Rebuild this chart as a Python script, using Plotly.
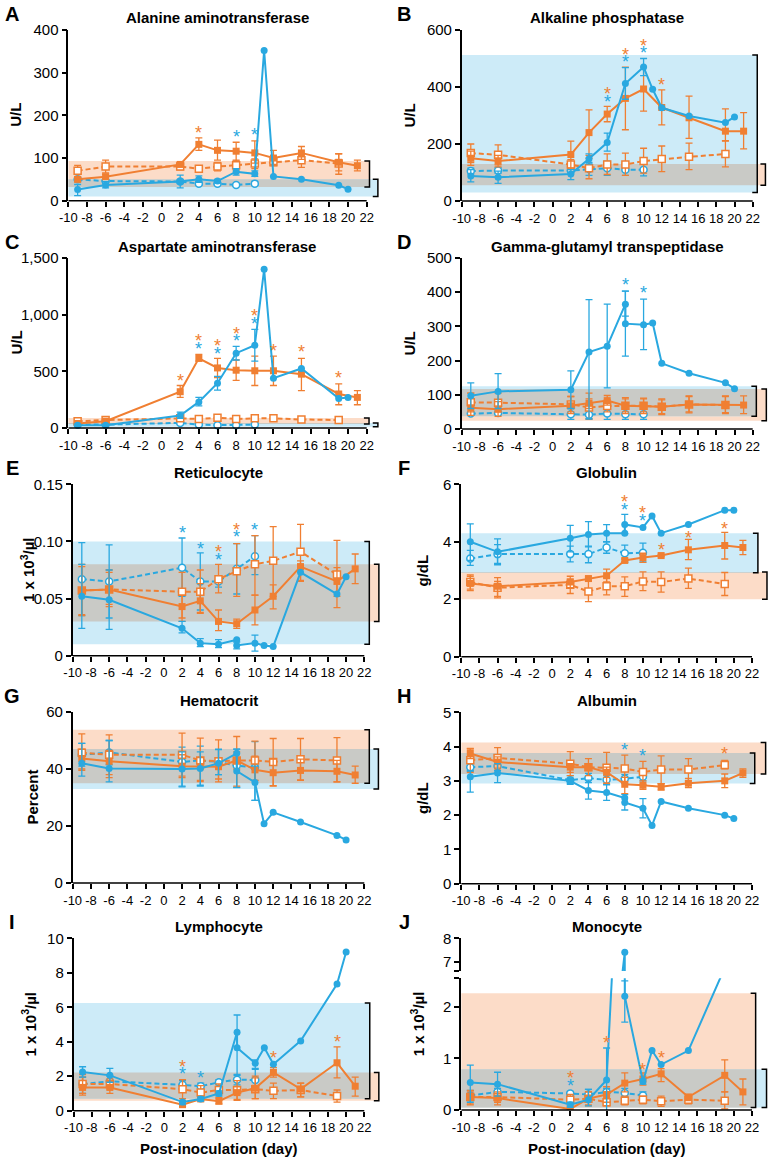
"""
Ten-panel clinical chemistry / haematology time course, rebuilt with Plotly.
"""
import plotly.graph_objects as go

N = None  # no error bar at this point

# shared day axes
OS_DAYS = [-9, -6, 2, 4, 6, 8, 10, 12, 15, 19, 21]   # orange, solid, filled squares
OD_DAYS = [-9, -6, 2, 4, 6, 8, 10, 12, 15, 19]       # orange, dashed, open squares
BD_DAYS = [-9, -6, 2, 4, 6, 8, 10]                   # blue, dashed, open circles
X_TICKS = list(range(-10, 23, 2))
X_TICK_LABELS = [str(d) for d in X_TICKS]

# each point: (mean, error-bar low, error-bar high)

# A  Alanine aminotransferase
alt_os = [(50, 45, 56), (56, 50, 62), (85, 80, 90), (132, 118, 147), (118, 95, 142), (116, 93, 137),
          (112, 88, 140), (100, 85, 118), (112, 97, 127), (90, 70, 110), (82, 70, 95)]
alt_od = [(70, 55, 83), (80, 65, 95), (80, 72, 88), (75, 68, 82), (80, 70, 90), (83, 72, 95),
          (87, 75, 98), (90, 82, 100), (95, 78, 110), (87, 62, 110)]
alt_bs_days = [-9, -6, 2, 4, 6, 8, 10, 11, 12, 15, 19, 20]
alt_bs = [(26, 12, 38), (37, 30, 45), (45, 30, 60), (50, 43, 58), (46, 42, 50), (68, 60, 75),
          (63, 57, 70), (352, N, N), (57, N, N), (50, N, N), (36, N, N), (27, N, N)]
alt_bd = [(50, 45, 55), (46, 42, 50), (45, 40, 50), (40, 36, 45), (40, 37, 43), (37, 34, 40), (40, 36, 45)]
alt_orange_ref = (32, 93)
alt_blue_ref = (10, 50)
alt_stars = [(4, 171, "o"), (8, 160, "b"), (10, 165, "b")]
alt_yticks = [0, 100, 200, 300, 400]
alt_ylabels = ["0", "100", "200", "300", "400"]

# B  Alkaline phosphatase
alp_os = [(150, 125, 175), (140, 120, 160), (163, 115, 210), (240, 160, 320), (305, 278, 332),
          (360, 250, 470), (393, 315, 470), (328, 267, 390), (292, 220, 368), (245, 212, 323),
          (245, 183, 310)]
alp_od = [(168, 135, 200), (162, 127, 197), (128, 110, 145), (115, 78, 150), (128, 93, 165),
          (128, 90, 168), (140, 98, 185), (147, 103, 193), (155, 110, 203), (165, 120, 210)]
alp_bs_days = [-9, -6, 2, 4, 6, 8, 10, 11, 12, 15, 19, 20]
alp_bs = [(88, 67, 110), (83, 62, 105), (95, 75, 110), (148, 130, 165), (205, 175, 238),
          (412, 357, 468), (470, 440, 500), (392, N, N), (327, N, N), (298, N, N), (275, N, N),
          (295, N, N)]
alp_bd = [(105, 95, 115), (107, 97, 117), (107, 95, 118), (112, 90, 135), (115, 90, 140),
          (110, 90, 130), (110, 88, 132)]
alp_orange_ref = (55, 130)
alp_blue_ref = (30, 512)
alp_stars = [(6, 392, "o"), (6, 366, "b"), (8, 530, "o"), (8, 504, "b"), (10, 562, "o"),
             (10, 538, "b"), (12, 425, "o")]
alp_yticks = [0, 200, 400, 600]
alp_ylabels = ["0", "200", "400", "600"]

# C  Aspartate aminotransferase
ast_os = [(40, 30, 50), (60, 50, 70), (320, 270, 375), (615, 590, 650), (530, 445, 615),
          (510, 420, 600), (505, 375, 635), (505, 375, 635), (475, 330, 615), (300, 205, 390),
          (270, 205, 330)]
ast_od = [(60, 50, 70), (70, 60, 80), (85, 75, 95), (80, 70, 90), (90, 80, 100), (80, 70, 90),
          (85, 70, 100), (85, 75, 95), (75, 65, 85), (70, 60, 80)]
ast_bs_days = [-9, -6, 2, 4, 6, 8, 10, 11, 12, 15, 19, 20]
ast_bs = [(25, 15, 35), (25, 15, 35), (110, 85, 140), (230, 195, 270), (395, 335, 455),
          (660, 600, 720), (730, 590, 870), (1400, N, N), (440, N, N), (525, N, N), (260, N, N),
          (270, N, N)]
ast_bd = [(30, 20, 40), (30, 20, 40), (45, 35, 55), (30, 22, 38), (25, 18, 32), (25, 18, 32), (30, 22, 38)]
ast_orange_ref = (35, 88)
ast_blue_ref = (12, 45)
ast_stars = [(2, 460, "o"), (4, 810, "o"), (4, 745, "b"), (6, 765, "o"), (6, 700, "b"),
             (8, 875, "o"), (8, 810, "b"), (10, 1030, "o"), (10, 965, "b"), (12, 725, "o"),
             (15, 712, "o"), (19, 485, "o")]
ast_yticks = [0, 500, 1000, 1500]
ast_ylabels = ["0", "500", "1,000", "1,500"]

# D  Gamma-glutamyl transpeptidase
ggt_os = [(62, 40, 105), (58, 37, 80), (68, 45, 95), (75, 60, 88), (83, 70, 98), (68, 45, 92),
          (67, 45, 90), (65, 42, 88), (72, 47, 97), (70, 45, 97), (70, 45, 97)]
ggt_od = [(78, 50, 105), (77, 50, 105), (72, 50, 95), (63, 30, 105), (67, 50, 85), (68, 50, 88),
          (68, 50, 88), (65, 45, 85), (72, 50, 95), (70, 48, 95)]
ggt_bs_days = [-9, -6, 2, 4, 6, 8, 8, 10, 11, 12, 15, 19, 20]
ggt_bs = [(97, 60, 135), (110, 60, 162), (115, 60, 170), (225, 30, 378), (242, 120, 365),
          (365, 330, 403), (308, 213, 403), (305, 232, 380), (310, N, N), (192, N, N), (163, N, N),
          (135, N, N), (118, N, N)]
ggt_bd = [(45, 40, 50), (47, 42, 52), (43, 28, 60), (42, 28, 62), (45, 28, 62), (43, 28, 60), (43, 28, 60)]
ggt_orange_ref = (24, 117)
ggt_blue_ref = (37, 125)
ggt_stars = [(8, 437, "b"), (10, 412, "b")]
ggt_yticks = [0, 100, 200, 300, 400, 500]
ggt_ylabels = ["0", "100", "200", "300", "400", "500"]

# E  Reticulocyte
ret_os = [(0.057, 0.035, 0.080), (0.058, 0.045, 0.075), (0.043, 0.030, 0.053), (0.048, 0.037, 0.063),
          (0.030, 0.022, 0.040), (0.028, 0.024, 0.032), (0.040, 0.027, 0.053), (0.052, 0.041, 0.062),
          (0.078, 0.065, 0.083), (0.065, 0.052, 0.077), (0.076, 0.063, 0.089)]
ret_od = [(0.057, 0.036, 0.078), (0.058, 0.043, 0.073), (0.056, 0.033, 0.073), (0.056, 0.038, 0.075),
          (0.067, 0.055, 0.080), (0.074, 0.052, 0.098), (0.080, 0.053, 0.105), (0.083, 0.052, 0.113),
          (0.091, 0.066, 0.115), (0.071, 0.042, 0.101)]
ret_bs_days = [-9, -6, 2, 4, 6, 8, 8, 10, 11, 12, 15, 19, 20]
ret_bs = [(0.052, 0.024, 0.080), (0.049, 0.023, 0.075), (0.024, 0.020, 0.030), (0.011, 0.008, 0.015),
          (0.010, 0.007, 0.014), (0.014, N, N), (0.009, 0.006, 0.012), (0.011, 0.004, 0.018),
          (0.009, N, N), (0.008, N, N), (0.073, N, N), (0.054, N, N), (0.069, N, N)]
ret_bd = [(0.067, 0.035, 0.099), (0.065, 0.033, 0.097), (0.077, 0.052, 0.103), (0.065, 0.040, 0.090),
          (0.065, 0.060, 0.070), (0.076, 0.054, 0.098), (0.087, 0.071, 0.105)]
ret_orange_ref = (0.03, 0.08)
ret_blue_ref = (0.01, 0.10)
ret_stars = [(2, 0.112, "b"), (4, 0.098, "b"), (6, 0.095, "o"), (6, 0.088, "b"), (8, 0.114, "o"),
             (8, 0.108, "b"), (10, 0.114, "b")]
ret_yticks = [0, 0.05, 0.10, 0.15]
ret_ylabels = ["0", "0.05", "0.10", "0.15"]

# F  Globulin
glo_os = [(2.55, 2.3, 2.85), (2.45, 2.1, 2.75), (2.6, 2.4, 2.8), (2.72, 2.65, 2.78), (2.82, 2.6, 3.05),
          (3.35, 3.3, 3.4), (3.45, 3.28, 3.6), (3.52, 3.48, 3.56), (3.72, 3.38, 4.08), (3.87, 3.4, 4.33),
          (3.8, 3.55, 4.05)]
glo_od = [(2.6, 2.35, 2.8), (2.4, 2.05, 2.62), (2.5, 2.2, 2.7), (2.27, 1.92, 2.62), (2.45, 2.15, 2.75),
          (2.45, 2.1, 2.78), (2.62, 2.3, 2.95), (2.6, 2.25, 2.95), (2.72, 2.38, 3.08), (2.53, 2.13, 2.93)]
glo_bs_days = [-9, -6, 2, 4, 6, 8, 8, 10, 11, 12, 15, 19, 20]
glo_bs = [(4.0, 3.35, 4.62), (3.65, 3.2, 4.1), (4.12, 3.65, 4.57), (4.25, 3.82, 4.7), (4.3, 4.0, 4.6),
          (4.3, N, N), (4.6, 4.28, 4.95), (4.5, N, N), (4.9, N, N), (4.3, N, N), (4.6, N, N),
          (5.1, N, N), (5.1, N, N)]
glo_bd = [(3.42, 3.18, 3.7), (3.57, 3.25, 3.9), (3.57, 3.3, 3.85), (3.57, 3.27, 3.85), (3.8, 3.6, 4.0),
          (3.6, 3.28, 3.88), (3.62, 3.3, 3.95)]
glo_orange_ref = (2.0, 2.95)
glo_blue_ref = (2.92, 4.3)
glo_stars = [(8, 5.55, "o"), (8, 5.28, "b"), (10, 5.16, "o"), (10, 4.9, "b"), (12, 3.89, "o"),
             (15, 4.29, "o"), (19, 4.62, "o")]
glo_yticks = [0, 2, 4, 6]
glo_ylabels = ["0", "2", "4", "6"]

# G  Hematocrit
hct_os = [(43.7, 40, 47), (42.7, 37, 46.5), (41, 37, 45), (40.8, 36, 44), (40.8, 36.5, 44), (43, 40, 46),
          (39.7, 36, 44.5), (38.7, 34, 43.5), (39.5, 36, 43.5), (39.2, 35.5, 43), (37.9, 35, 41)]
hct_od = [(45.7, 39.5, 52.3), (45, 38, 52), (45, 37.5, 52.6), (43, 35.6, 50.8), (42.7, 35.5, 50.2),
          (43, 34, 51.4), (43, 36, 49.8), (42.5, 34.2, 50.7), (43.4, 36.2, 50.7), (43, 35.5, 51)]
hct_bs_days = [-9, -6, 2, 4, 6, 8, 8, 10, 11, 12, 15, 19, 20]
hct_bs = [(42, 37.5, 49), (40.2, 35.5, 50), (40, 34, 46), (40.2, 34, 46), (42, 38, 47), (45.5, N, N),
          (39.3, 33.5, 47), (35.3, 29, 41), (20.8, N, N), (24.8, N, N), (21.4, N, N), (16.7, N, N),
          (15.1, N, N)]
hct_bd = [(45, 41, 49), (45.8, 41.5, 50), (42.5, 33.7, 47.7), (43, 34.3, 48), (42.5, 38, 46.8),
          (41.2, 33.6, 47), (40.5, 29, 49.6)]
hct_orange_ref = (35, 53.8)
hct_blue_ref = (33, 47)
hct_stars = []
hct_yticks = [0, 20, 40, 60]
hct_ylabels = ["0", "20", "40", "60"]

# H  Albumin
alb_os = [(3.8, 3.65, 3.93), (3.55, 3.4, 3.7), (3.4, 3.25, 3.5), (3.4, 3.3, 3.5), (3.25, 3.1, 3.4),
          (2.9, 2.63, 3.1), (2.87, 2.75, 3.0), (2.83, 2.73, 2.92), (2.93, 2.8, 3.07), (3.0, 2.8, 3.2),
          (3.23, 3.1, 3.35)]
alb_od = [(3.6, 3.25, 3.95), (3.67, 3.35, 3.97), (3.5, 3.15, 3.85), (3.4, 3.15, 3.65), (3.38, 2.93, 3.83),
          (3.36, 2.98, 3.75), (3.26, 2.9, 3.57), (3.33, 2.92, 3.73), (3.33, 3.0, 3.65), (3.46, 3.35, 3.6)]
alb_bs_days = [-9, -6, 2, 4, 6, 8, 8, 10, 11, 12, 15, 19, 20]
alb_bs = [(3.12, 2.67, 3.3), (3.23, 2.95, 3.5), (3.0, 2.93, 3.08), (2.72, 2.47, 3.02), (2.66, 2.43, 2.88),
          (2.5, N, N), (2.37, 2.15, 2.6), (2.2, 1.92, 2.48), (1.7, N, N), (2.4, N, N), (2.2, N, N),
          (2.0, N, N), (1.9, N, N)]
alb_bd = [(3.4, 3.28, 3.5), (3.43, 3.3, 3.55), (3.02, 2.9, 3.15), (3.08, 2.95, 3.22), (3.03, 2.9, 3.17),
          (3.06, 2.92, 3.18), (3.12, 3.0, 3.25)]
alb_orange_ref = (3.2, 4.12)
alb_blue_ref = (2.92, 3.81)
alb_stars = [(8, 4.06, "b"), (10, 3.86, "b"), (19, 3.93, "o")]
alb_yticks = [0, 1, 2, 3, 4, 5]
alb_ylabels = ["0", "1", "2", "3", "4", "5"]

# I  Lymphocyte
lym_os = [(1.35, 0.9, 1.95), (1.35, 1.0, 1.7), (0.35, 0.25, 0.45), (0.68, 0.6, 0.75), (0.55, 0.4, 0.75),
          (1.05, 0.6, 1.4), (1.3, 0.7, 2.0), (2.22, 1.95, 2.5), (1.25, 0.8, 1.6), (2.78, 1.9, 3.7),
          (1.42, 0.85, 1.95)]
lym_od = [(1.55, 1.0, 2.1), (1.55, 1.25, 1.85), (1.25, 0.7, 1.8), (1.05, 0.65, 1.45), (1.2, 0.9, 1.55),
          (1.2, 0.65, 1.75), (1.25, 0.7, 1.9), (1.15, 0.7, 1.6), (1.2, 0.8, 1.6), (0.85, 0.5, 1.2)]
lym_bs_days = [-9, -6, 2, 4, 6, 8, 8, 10, 11, 12, 15, 19, 20]
lym_bs = [(2.25, 1.95, 2.55), (2.05, 1.65, 2.45), (0.5, 0.35, 0.6), (0.68, 0.55, 0.8), (1.0, 0.85, 1.15),
          (4.55, N, N), (3.65, 2.1, 5.55), (2.75, 2.45, 2.95), (3.65, N, N), (2.7, N, N), (4.05, N, N),
          (7.35, N, N), (9.2, N, N)]
lym_bd = [(1.55, 1.0, 1.95), (1.7, 1.4, 2.0), (1.5, 1.25, 1.75), (1.42, 1.25, 1.6), (1.65, 1.5, 1.8),
          (1.8, 1.5, 2.05), (1.78, 1.3, 2.4)]
lym_orange_ref = (0.58, 2.22)
lym_blue_ref = (0.7, 6.25)
lym_stars = [(2, 2.84, "o"), (2, 2.4, "b"), (4, 2.17, "b"), (12, 3.33, "o"), (19, 4.3, "o")]
lym_yticks = [0, 2, 4, 6, 8, 10]
lym_ylabels = ["0", "2", "4", "6", "8", "10"]

# J  Monocyte (broken y axis)
mon_os = [(0.25, 0.12, 0.35), (0.23, 0.1, 0.32), (0.02, 0.0, 0.05), (0.22, 0.08, 0.35), (0.3, 0.15, 0.45),
          (0.52, 0.35, 0.72), (0.6, 0.48, 0.72), (0.7, 0.55, 0.8), (0.25, 0.18, 0.3), (0.67, 0.35, 0.97),
          (0.35, 0.1, 0.6)]
mon_od = [(0.25, 0.1, 0.38), (0.25, 0.15, 0.35), (0.2, 0.08, 0.3), (0.22, 0.1, 0.35), (0.15, 0.08, 0.22),
          (0.18, 0.1, 0.27), (0.2, 0.12, 0.27), (0.17, 0.07, 0.27), (0.2, 0.12, 0.28), (0.18, 0.02, 0.35)]
mon_bs_days = [-9, -6, 2, 4, 6, 8, 8, 10, 11, 12, 15, 19, 20]
mon_bs = [(0.53, 0.15, 0.87), (0.5, 0.27, 0.73), (0.1, 0.05, 0.15), (0.2, 0.08, 0.4), (0.58, -0.05, 1.2),
          (7.4, N, N), (2.2, 1.7, 2.5), (0.55, 0.5, 0.6), (1.15, N, N), (0.88, N, N), (1.15, N, N),
          (2.75, N, N), (4.5, N, N)]
mon_bd = [(0.28, 0.18, 0.38), (0.35, 0.28, 0.42), (0.32, 0.28, 0.36), (0.3, 0.2, 0.4), (0.35, 0.28, 0.42),
          (0.33, 0.26, 0.42), (0.28, 0.21, 0.35)]
mon_orange_ref = (0.05, 2.26)
mon_blue_ref = (0.05, 0.79)
mon_stars = [(2, 0.71, "o"), (2, 0.57, "b"), (6, 1.4, "o"), (10, 0.87, "o"), (12, 1.11, "o")]
mon_yticks = [0, 1, 2, 2.55]
mon_ylabels = ["0", "1", "2", ""]
mon_upper_yticks = [6.6, 7, 8]
mon_upper_ylabels = ["", "7", "8"]

# ---- styling ----
W, H = 773, 1162
BLUE = "#29a8e0"
ORANGE = "#f07f32"
BLUE_BAND = "#cdebf8"
ORANGE_BAND = "#fcdcc8"
GREY_BAND = "#c9cac6"
FONT = "Liberation Sans"
X_MAX = 23.9
UNIT = "1 x 10<sup>3</sup>/µl"

PANELS = [
    dict(letter="A", title="Alanine aminotransferase", ytitle="U/L", os=alt_os, od=alt_od,
         bs_days=alt_bs_days, bs=alt_bs, bd=alt_bd, oref=alt_orange_ref, bref=alt_blue_ref,
         stars=alt_stars, yticks=alt_yticks, ylabels=alt_ylabels, yrange=[0, 400],
         box=(68.3, 366.7, 30, 200.7), brackets=(22.3, 23.2), ytx=15.5),
    dict(letter="B", title="Alkaline phosphatase", ytitle="U/L", os=alp_os, od=alp_od,
         bs_days=alp_bs_days, bs=alp_bs, bd=alp_bd, oref=alp_orange_ref, bref=alp_blue_ref,
         stars=alp_stars, yticks=alp_yticks, ylabels=alp_ylabels, yrange=[0, 600],
         box=(461.7, 752.7, 30, 201), brackets=(23.4, 22.5), ytx=409),
    dict(letter="C", title="Aspartate aminotransferase", ytitle="U/L", os=ast_os, od=ast_od,
         bs_days=ast_bs_days, bs=ast_bs, bd=ast_bd, oref=ast_orange_ref, bref=ast_blue_ref,
         stars=ast_stars, yticks=ast_yticks, ylabels=ast_ylabels, yrange=[0, 1500],
         box=(68.3, 366.7, 258, 428), brackets=(22.25, 23.2), ytx=15.5),
    dict(letter="D", title="Gamma-glutamyl transpeptidase", ytitle="U/L", os=ggt_os, od=ggt_od,
         bs_days=ggt_bs_days, bs=ggt_bs, bd=ggt_bd, oref=ggt_orange_ref, bref=ggt_blue_ref,
         stars=ggt_stars, yticks=ggt_yticks, ylabels=ggt_ylabels, yrange=[0, 500],
         box=(461.7, 752.7, 258, 429), brackets=(23.5, 22.4), ytx=409),
    dict(letter="E", title="Reticulocyte", ytitle=UNIT, os=ret_os, od=ret_od,
         bs_days=ret_bs_days, bs=ret_bs, bd=ret_bd, oref=ret_orange_ref, bref=ret_blue_ref,
         stars=ret_stars, yticks=ret_yticks, ylabels=ret_ylabels, yrange=[0, 0.15],
         box=(72.7, 364.3, 484.3, 655.7), brackets=(23.6, 22.55), ytx=27),
    dict(letter="F", title="Globulin", ytitle="g/dL", os=glo_os, od=glo_od,
         bs_days=glo_bs_days, bs=glo_bs, bd=glo_bd, oref=glo_orange_ref, bref=glo_blue_ref,
         stars=glo_stars, yticks=glo_yticks, ylabels=glo_ylabels, yrange=[0, 6],
         box=(461.2, 752.0, 484.3, 656.7), brackets=(23.65, 22.65), ytx=422),
    dict(letter="G", title="Hematocrit", ytitle="Percent", os=hct_os, od=hct_od,
         bs_days=hct_bs_days, bs=hct_bs, bd=hct_bd, oref=hct_orange_ref, bref=hct_blue_ref,
         stars=hct_stars, yticks=hct_yticks, ylabels=hct_ylabels, yrange=[0, 60],
         box=(72.7, 364.3, 712, 883), brackets=(22.55, 23.55), ytx=32),
    dict(letter="H", title="Albumin", ytitle="g/dL", os=alb_os, od=alb_od,
         bs_days=alb_bs_days, bs=alb_bs, bd=alb_bd, oref=alb_orange_ref, bref=alb_blue_ref,
         stars=alb_stars, yticks=alb_yticks, ylabels=alb_ylabels, yrange=[0, 5],
         box=(461.2, 752.0, 712.3, 883.7), brackets=(23.5, 22.3), ytx=422),
    dict(letter="I", title="Lymphocyte", ytitle=UNIT, os=lym_os, od=lym_od,
         bs_days=lym_bs_days, bs=lym_bs, bd=lym_bd, oref=lym_orange_ref, bref=lym_blue_ref,
         stars=lym_stars, yticks=lym_yticks, ylabels=lym_ylabels, yrange=[0, 10],
         box=(73.5, 364.3, 938.3, 1110.7), brackets=(23.6, 22.6), ytx=29),
    dict(letter="J", title="Monocyte", ytitle=UNIT, os=mon_os, od=mon_od,
         bs_days=mon_bs_days, bs=mon_bs, bd=mon_bd, oref=mon_orange_ref, bref=mon_blue_ref,
         stars=mon_stars, yticks=mon_yticks, ylabels=mon_ylabels, yrange=[0, 2.55],
         box=(461.2, 752.0, 978.2, 1110), brackets=(22.4, 23.6), ytx=417),
]


def add_series(fig, xa, ya, days, pts, color, symbol, open_marker, dashed, clip):
    """Line + markers, and a separate invisible-marker trace carrying the error bars."""
    bars = [(d, p) for d, p in zip(days, pts) if p[1] is not None]
    if bars:
        fig.add_trace(go.Scatter(
            x=[d for d, _ in bars],
            y=[p[0] for _, p in bars],
            mode="markers",
            marker=dict(size=2, color="rgba(0,0,0,0)"),
            error_y=dict(type="data", symmetric=False,
                         array=[p[2] - p[0] for _, p in bars],
                         arrayminus=[p[0] - p[1] for _, p in bars],
                         color=color, thickness=1.3, width=3.5),
            xaxis=xa, yaxis=ya, hoverinfo="skip", showlegend=False, cliponaxis=clip,
        ))
    fig.add_trace(go.Scatter(
        x=days,
        y=[p[0] for p in pts],
        mode="lines+markers",
        line=dict(color=color, width=2, dash="5px,3px" if dashed else "solid"),
        marker=dict(symbol=symbol, size=7,
                    color="white" if open_marker else color,
                    line=dict(color=color, width=1.5 if open_marker else 0)),
        xaxis=xa, yaxis=ya, hoverinfo="skip", showlegend=False, cliponaxis=clip,
    ))


fig = go.Figure()
axes = {}
shapes = []
annotations = []
font = dict(family=FONT, color="black")

for n, p in enumerate(PANELS, start=1):
    xl, x22, ytop, ybot = p["box"]
    unit = (x22 - xl) / 32
    xend = xl + (X_MAX + 10) * unit
    sfx = "" if n == 1 else str(n)
    xa, ya = "x" + sfx, "y" + sfx
    axes["xaxis" + sfx] = dict(
        domain=[xl / W, xend / W], anchor=ya, range=[-10, X_MAX], automargin=False,
        tickmode="array", tickvals=X_TICKS, ticktext=X_TICK_LABELS, tickangle=0,
        ticks="outside", ticklen=5, tickwidth=1.5, tickcolor="black",
        showline=False, showgrid=False, zeroline=False,
        tickfont=dict(family=FONT, size=13, color="black"),
    )
    axes["yaxis" + sfx] = dict(
        domain=[1 - ybot / H, 1 - ytop / H], anchor=xa, range=p["yrange"], automargin=False,
        tickmode="array", tickvals=p["yticks"], ticktext=p["ylabels"],
        ticks="outside", ticklen=5, tickwidth=1.5, tickcolor="black",
        showline=True, linewidth=1.5, linecolor="black",
        showgrid=False, zeroline=False,
        tickfont=dict(family=FONT, size=15, color="black"),
    )

    # reference ranges + brackets
    o0, o1 = p["oref"]
    b0, b1 = p["bref"]
    xo, xb = p["brackets"]
    shapes.append(dict(type="rect", xref=xa, yref=ya, x0=-10, x1=xo, y0=o0, y1=o1,
                       fillcolor=ORANGE_BAND, line=dict(width=0), layer="below"))
    shapes.append(dict(type="rect", xref=xa, yref=ya, x0=-10, x1=xb, y0=b0, y1=b1,
                       fillcolor=BLUE_BAND, line=dict(width=0), layer="below"))
    lo, hi = max(o0, b0), min(o1, b1)
    if hi > lo:
        shapes.append(dict(type="rect", xref=xa, yref=ya, x0=-10, x1=min(xo, xb), y0=lo, y1=hi,
                           fillcolor=GREY_BAND, line=dict(width=0), layer="below"))
    for xbr, (r0, r1) in ((xo, p["oref"]), (xb, p["bref"])):
        s = 0.55
        shapes.append(dict(type="path", xref=xa, yref=ya,
                           path=f"M {xbr - s},{r1} L {xbr},{r1} L {xbr},{r0} L {xbr - s},{r0}",
                           line=dict(color="black", width=1.5)))
    # x axis line stops at day 22
    shapes.append(dict(type="line", xref=xa, yref=f"{ya} domain", x0=-10, x1=22, y0=0, y1=0,
                       line=dict(color="black", width=1.5), layer="above"))

    clip = p["letter"] == "J"
    add_series(fig, xa, ya, BD_DAYS, p["bd"], BLUE, "circle", True, True, clip)
    add_series(fig, xa, ya, OD_DAYS, p["od"], ORANGE, "square", True, True, clip)
    add_series(fig, xa, ya, OS_DAYS, p["os"], ORANGE, "square", False, False, clip)
    add_series(fig, xa, ya, p["bs_days"], p["bs"], BLUE, "circle", False, False, clip)

    # significance asterisks (the glyph sits high in its box, so nudge it down)
    for day, val, grp in p["stars"]:
        annotations.append(dict(text="*", xref=xa, yref=ya, x=day, y=val, showarrow=False,
                                xanchor="center", yanchor="middle", yshift=-5,
                                font=dict(family=FONT, size=18,
                                          color=ORANGE if grp == "o" else BLUE)))

    panel_top = ytop if p["letter"] != "J" else 938.3
    cx = (xl + x22) / 2
    left = xl < 200
    annotations.append(dict(text=f"<b>{p['letter']}</b>", xref="paper", yref="paper",
                            x=(12 if left else 404) / W, y=1 - (panel_top - 16) / H,
                            showarrow=False, xanchor="center", yanchor="middle",
                            font=dict(family=FONT, size=20, color="black")))
    annotations.append(dict(text=f"<b>{p['title']}</b>", xref="paper", yref="paper",
                            x=cx / W, y=1 - (panel_top - 12) / H, showarrow=False,
                            xanchor="center", yanchor="middle",
                            font=dict(family=FONT, size=15, color="black")))
    ymid = (panel_top + ybot) / 2
    annotations.append(dict(text=f"<b>{p['ytitle']}</b>", xref="paper", yref="paper",
                            x=p["ytx"] / W, y=1 - ymid / H, textangle=-90, showarrow=False,
                            xanchor="center", yanchor="middle",
                            font=dict(family=FONT, size=15, color="black")))
    if p["letter"] in ("I", "J"):
        annotations.append(dict(text="<b>Post-inoculation (day)</b>", xref="paper", yref="paper",
                                x=cx / W, y=1 - 1148 / H, showarrow=False,
                                xanchor="center", yanchor="middle",
                                font=dict(family=FONT, size=15, color="black")))

# upper segment of the broken monocyte axis
axes["yaxis11"] = dict(
    domain=[1 - 971.0 / H, 1 - 938.3 / H], anchor="x10", range=[6.6, 8], automargin=False,
    tickmode="array", tickvals=mon_upper_yticks, ticktext=mon_upper_ylabels,
    ticks="outside", ticklen=5, tickwidth=1.5, tickcolor="black",
    showline=True, linewidth=1.5, linecolor="black", showgrid=False, zeroline=False,
    tickfont=dict(family=FONT, size=15, color="black"),
)
add_series(fig, "x10", "y11", mon_bs_days, mon_bs, BLUE, "circle", False, False, True)

fig.update_layout(
    template="none",
    width=W, height=H,
    margin=dict(l=0, r=0, t=0, b=0, autoexpand=False),
    paper_bgcolor="white", plot_bgcolor="white",
    font=font, showlegend=False,
    shapes=shapes, annotations=annotations,
    **axes,
)

# the page's default body margin would push the figure off by 8 px
fig.write_html("out.html", config={"displayModeBar": False},
               post_script="document.body.style.margin='0';")
